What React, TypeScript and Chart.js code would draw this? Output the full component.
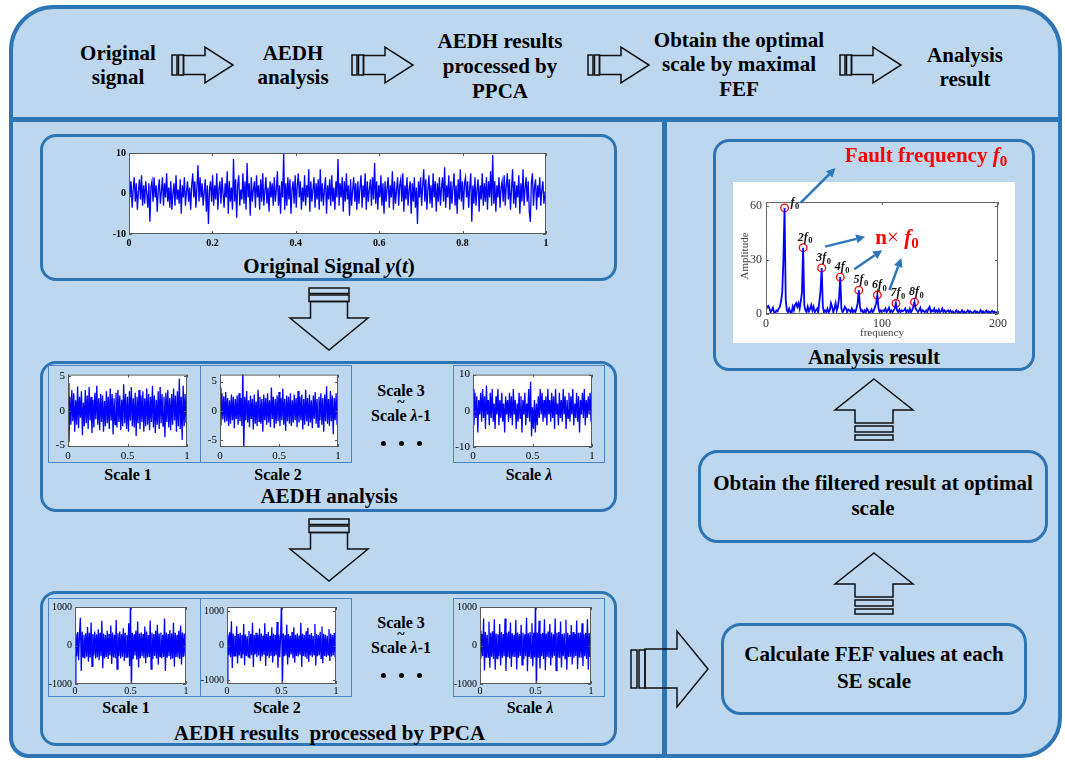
import React, { useEffect, useRef } from "react";
import { Chart, registerables } from "chart.js";

Chart.register(...registerables);

const SERIF = '"Liberation Serif", "Times New Roman", Times, serif';
const FRAME_BLUE = "#2E75B6";
const PANEL_FILL = "#BDD7EE";
const INNER_BLUE = "#4A86C5";
const SIGNAL_BLUE = "#0000FF";

// ---------- signals (sampled over t = 0..1) ----------
const ORIGINAL_SIGNAL = [
  6.5, -1, 3, -3.5, 1, 4, -2, 2.5, -4, 0.5, 3.5, -1.5, 4.5, -3, 2, -2.5, 3, 0, -3.5, 2.5,
  -7, 1.5, 3, -2, 4, -1, 2, -4.5, 1, 3.5, -2.5, 0.5, 4, -3, 2.5, -1, 5, -2, 1.5, -3.5,
  3, -4, 0, 2.5, -3, 4.5, -1.5, 1, -2.5, 3.5, -5, 2, -1, 4, -3, 0.5, 3, -2, 1.5, -4,
  2, 5, -1, 3, -3.5, 1.5, 7, -2, 4, -1, 2.5, -3, 0.5, 3.5, -4.5, 2, -7.5, 1, 3, -2,
  4.5, -3, 2, -1.5, 5, -4, 1, 3, -2.5, 4, 0, -3.5, 2.5, -1, 5.5, -5, 3, -2, 1.5, -4,
  8.5, -2, 3.5, -6, 2, 4.5, -3, 1, -1.5, 5, -2.5, 3, -4, 7.5, -1, 2.5, -5.5, 4, -2, 1,
  3, -3.5, 4.5, -1, 2, -4, 3.5, -2, 5, -3, 0.5, 4, -2.5, 1.5, -4.5, 3, -1, 2.5, -3, 4,
  -2, 1, 5.5, -3, 2, -5, 3, -1, 10, -4, 2.5, -3, 4, -1.5, 3.5, -5, 1, 3, -2.5, 4.5,
  -3.5, 2, 5, -1, 3, -4, 1.5, -2, 4.5, -3, 2, -1, 6, -4.5, 3, -2, 1, 4, -3.5, 2.5,
  -1.5, 3.5, -4, 6, -2, 2.5, -3, 1, 4, -5, 2, -1.5, 3.5, -3, 4.5, -2, 1.5, -4, 3, -1,
  8.5, -3, 2.5, -1, 4, -4.5, 3, -2, 5, -1.5, 2, -5.5, 3.5, -3, 1, 4, -2, 2.5, -4, 3,
  -2.5, 1.5, 4.5, -3.5, 2, -1, 5, -4, 3, -2, 1, 3.5, -3, 4, -1.5, 7.5, -2.5, 3, -4, 2,
  -1, 4.5, -3, 2.5, -5, 3, -2, 1.5, 4, -3.5, 2, -1, 5.5, -4, 3, -2.5, 1, 4, -3, 2,
  3.5, -2, 5, -4.5, 2, -1.5, 4, -3, 1, 3, -5, 2.5, -2, 4, -3.5, 1.5, -7.5, 3, -1, 4,
  -3, 2, 6, -2, 3.5, -4, 1, 4.5, -2.5, 2, -3.5, 5, -1, 3, -4.5, 2.5, -2, 4, -3, 1.5,
  4, -2, 6.5, -3.5, 2, -1, 4.5, -4, 3, -2.5, 1.5, 5, -3, 2, -5, 3.5, -1.5, 6, -2, 3,
  -4, 2.5, 4, -1, 3, -3.5, 1.5, 5, -7, 2, -2.5, 4, -3, 1, 3.5, -4.5, 2, -1.5, 5, -3,
  2.5, -2, 4, -4, 3, -1, 5.5, -3, 9.5, -2.5, 3, -4.5, 2, -1, 4, -3.5, 1.5, 3, -2, 4.5,
  -3, 2, 5, -1.5, 3.5, -4, 1, 6, -2.5, 3, -3.5, 2, -1, 4.5, -5, 2.5, -2, 6, -3, 1.5,
  4, -2, 3, -4.5, -7, 2.5, 5, -3, 1.5, 3.5, -4, 2, -1, 4, -3, 1, 3, -2.5, 0.5, -3,
];

const AEDH_SCALE_1 = [
  4, -4.5, 2, -2, 3, -1.5, 2.5, -3, 1.5, -2, 3.5, -2.5, 2, -1, 2.8, -3.5, 1.2, -2.2, 3, -1.8,
  2.2, -2.6, 3.4, -1.4, 2, -3.2, 1.6, -2.4, 2.6, -1.2, 3.6, -2, 1.8, -2.8, 2.4, -1.6, 2.2, -3, 1.4, -2.2,
  2.8, -1.8, 2, -2.6, 3.2, -1.4, 2.4, -3.4, 1.8, -2, 2.6, -2.4, 3, -1.6, 2.2, -2.8, 1.6, -2.2, 3.8, -1.8,
  2.4, -2.6, 2, -3, 2.8, -1.4, 3.4, -2.2, 1.8, -2.4, 2.6, -3.6, 2, -1.8, 3, -2.6, 2.2, -1.6, 2.8, -3,
  1.8, -2.2, 3.2, -2, 2.4, -2.8, 2, -1.6, 3.6, -2.4, 2.2, -3.2, 1.6, -2, 2.8, -2.6, 3.4, -1.8, 2.4, -2.2,
  2, -3.8, 2.6, -1.6, 3, -2.4, 1.8, -2.8, 2.4, -2, 3.2, -1.4, 2.2, -3, 2.8, -2.2, 4.6, -2.6, 2, -4.2,
  3.6, -2.2, 2.4, -1.8, 3,
];

const AEDH_SCALE_2 = [
  4, -2.5, 3, -1.5, 2.5, -2, 3.2, -1.8, 2.2, -2.6, 1.8, -2.2, 2.8, -1.6, 2.4, -3, 2, -1.4, 2.6, -2.4,
  3, -1.8, 2.2, -2.6, 7, -7, 2.4, -1.6, 3.4, -2, 1.8, -2.8, 2.6, -1.4, 2, -3.2, 2.8, -2.2, 1.6, -2.6,
  3.6, -1.8, 2.4, -2.2, 2, -3.6, 2.8, -1.6, 2.2, -2.4, 3, -2, 1.8, -2.8, 4, -1.4, 2.4, -3, 2, -2.2,
  2.6, -1.8, 3.2, -2.6, 2.2, -1.6, 3.8, -2.4, 2, -3.4, 2.6, -1.8, 2.4, -2.2, 3, -2.6, 1.8, -2, 2.8, -1.6,
  2.2, -2.8, 3.4, -2, 2.4, -1.6, 2.8, -3.2, 2, -2.4, 3.6, -1.8, 2.2, -2.6, 2.8, -2, 1.8, -3, 2.6, -1.4,
  3.2, -2.2, 2, -2.8, 2.4, -1.6, 3, -2.4, 2.2, -3.6, 2.8, -1.8, 4.2, -2.2, 2, -2.6, 3.4, -1.8, 2.6, -4,
  2.2, -1.6, 3, -2.4, 2,
];

const AEDH_SCALE_LAMBDA = [
  6, -4, 5, -2, 4, -6, 3, -1, 5, -3, 6, -2, 4, -5, 7, -1, 3, -4, 5, -2,
  6, -3, 2, -5, 4, -1, 6, -4, 3, -2, 5, -3, 2, -6, 4, -1, 3, -3, 5, -2,
  4, -4, 6, -1, 3, -5, 2, -3, 5, -2, 4, -6, 3, -1, 5, -4, 2, -2, 6, -3,
  8, -7, 1, -5, 3, -6, 2, -4, 4, -2, 6, -1, 5, -3, 3, -2, 4, -4, 6, -1,
  3, -3, 5, -2, 4, -5, 6, -1, 2, -4, 5, -2, 3, -3, 6, -1, 4, -5, 3, -2,
  5, -3, 4, -1, 6, -4, 2, -2, 5, -3, 4, -6, 3, -1, 5, -2, 6, -4, 3, -2,
  4, -1, 5, -3, 2,
];

const PPCA_SCALE_1 = [
  -1100, 320, -280, 350, -380, 300, 720, -660, 360, -300, 280, -340, 320, -290, 480, -420, 330, -310, 600, -540,
  300, -260, 360, -340, 290, -310, 420, -380, 330, -280, 640, -590, 310, -340, 270, -300, 380, -350, 300, -260,
  520, -480, 340, -310, 280, -330, 660, -610, 320, -270, 360, -340, 300, -290, 450, -400, 330, -300, 270, -310,
  580, -530, 1200, -1200, 330, -350, 290, -260, 380, -360, 620, -570, 310, -330, 340, -280, 300, -330, 490, -460,
  360, -310, 270, -300, 650, -610, 330, -350, 300, -270, 380, -340, 540, -500, 310, -290, 340, -330, 280, -300,
  700, -660, 340, -320, 300, -280, 400, -360, 310, -340, 590, -550, 330, -300, 280, -310, 380, -350, 520, -490,
  340, -300, 310, -280, 330,
];

const PPCA_SCALE_2 = [
  -1050, 320, -280, 380, -340, 700, -650, 350, -300, 280, -320, 560, -520, 330, -290, 370, -350, 300, -260, 620,
  -570, 320, -300, 270, -330, 420, -380, 340, -280, 660, -620, 300, -260, 370, -340, 310, -290, 490, -450, 350,
  -320, 290, -270, 640, -590, 330, -300, 390, -360, 280, -300, 530, -490, 340, -310, 300, -280, 680, -640, 320,
  -340, 280, 1300, -1300, 350, -310, 300, -290, 600, -550, 330, -350, 280, -260, 390, -370, 530, -500, 310, -300,
  350, -320, 290, -270, 660, -620, 340, -300, 300, -330, 410, -380, 510, -480, 320, -290, 360, -340, 280, -260,
  620, -580, 330, -310, 300, -280, 400, -370, 550, -510, 340, -300, 310, -330, 280, -270, 480, -450, 350, -320,
  300, -280, 370, -340, 310,
];

const PPCA_SCALE_LAMBDA = [
  380, -340, 300, -280, 700, -650, 350, -320, 280, -300, 620, -580, 330, -290, 370, -350, 680, -630, 310, -340,
  290, -270, 560, -520, 350, -320, 300, -280, 700, -660, 330, -300, 360, -340, 600, -560, 320, -290, 280, -300,
  660, -620, 340, -320, 300, -270, 540, -500, 330, -350, 290, -280, 720, -670, 320, -300, 350, -330, 580, -540,
  330, -310, 1200, -1200, 340, -320, 640, -600, 300, -280, 330, -350, 680, -640, 310, -290, 360, -320, 560, -520,
  340, -320, 290, -270, 700, -650, 330, -310, 350, -330, 620, -570, 300, -280, 320, -340, 670, -630, 330, -300,
  280, -290, 530, -490, 350, -320, 300, -270, 650, -610, 330, -310, 340, -320, 580, -540, 300, -280, 330, -350,
  680, -630, 320, -300, 340,
];

// ---------- envelope spectrum (one value per frequency bin 0..200) ----------
const SPECTRUM = [
  2, 4, 4.5, 3, 1, 2, 3.5, 1, 0.5, 2, 1.5, 3, 4, 7, 12, 30, 58.7, 8, 2, 1,
  3, 1, 0.5, 4, 2, 5, 6, 4, 6, 3, 7, 12, 36.7, 5, 2, 1, 4, 1.5, 3, 5,
  2, 4, 1, 2, 3, 1, 7, 13, 25.5, 4, 1, 2, 1, 3, 1, 2, 6, 4, 1, 3,
  6, 2, 4, 9, 20.4, 3, 1, 2, 4, 3, 1, 2.5, 2, 1, 3, 1, 2, 1, 3, 6,
  13.2, 4, 1.5, 2, 0.5, 2, 1, 3, 2, 0.5, 1, 2.5, 1, 2, 4, 6, 10.5, 3, 1, 2,
  1, 2, 1.5, 3, 1, 2, 3.5, 1, 2, 1, 2, 3, 5.9, 2, 1, 2.5, 1, 2, 1.5, 2,
  3, 1, 2, 1, 3, 1, 2, 4, 6.6, 3, 2, 1, 2, 3.5, 1, 2, 1.5, 1, 2, 1,
  3, 4, 1, 2, 1.5, 3, 1, 2, 1, 2.5, 1, 1.5, 3, 1, 2, 1, 1.5, 2, 1, 2,
  1, 1.5, 0.5, 1, 2, 1, 1.5, 0.5, 1, 2, 0.8, 1.4, 0.6, 1.2, 2, 0.9, 1.6, 1, 0.4, 1.1,
  1.8, 0.7, 1.3, 0.5, 1, 2.1, 0.8, 1.5, 0.6, 1.2, 1.9, 0.7, 1.4, 0.5, 1.1, 1.7, 0.9, 1.3, 0.6, 1, 0.8,
];
const FREQUENCY = SPECTRUM.map((_, i) => i);
const PEAK_BINS = [16, 32, 48, 64, 80, 96, 112, 128];
const PEAK_MULTIPLES = ["", "2", "3", "4", "5", "6", "7", "8"];

// ---------- tick values ----------
const SIGNAL_X_TICKS = [0, 0.2, 0.4, 0.6, 0.8, 1];
const SIGNAL_Y_TICKS = [-10, 0, 10];
const SCALE_X_TICKS = [0, 0.5, 1];
const SCALE_Y_TICKS_SMALL = [-5, 0, 5];
const SCALE_Y_TICKS_LARGE = [-10, 0, 10];
const PPCA_Y_TICKS = [-1000, 0, 1000];
const SPECTRUM_X_TICKS = [0, 100, 200];
const SPECTRUM_Y_TICKS = [0, 30, 60];

type Box = { x: number; y: number; w: number; h: number };

// white plot face, grey frame and short inward tick marks
function framePlugin(xTicks: number[], yTicks: number[], color: string, len: number) {
  return {
    id: "plotFrame",
    beforeDatasetsDraw(chart: any) {
      const { ctx, chartArea: a } = chart;
      ctx.save();
      ctx.fillStyle = "#ffffff";
      ctx.fillRect(a.left, a.top, a.right - a.left, a.bottom - a.top);
      ctx.restore();
    },
    afterDatasetsDraw(chart: any) {
      const { ctx, chartArea: a, scales } = chart;
      ctx.save();
      ctx.strokeStyle = color;
      ctx.lineWidth = 1;
      ctx.strokeRect(a.left + 0.5, a.top + 0.5, a.right - a.left - 1, a.bottom - a.top - 1);
      ctx.beginPath();
      xTicks.forEach((v) => {
        const px = Math.round(scales.x.getPixelForValue(v)) + 0.5;
        ctx.moveTo(px, a.bottom);
        ctx.lineTo(px, a.bottom - len);
        ctx.moveTo(px, a.top);
        ctx.lineTo(px, a.top + len);
      });
      yTicks.forEach((v) => {
        const py = Math.round(scales.y.getPixelForValue(v)) + 0.5;
        ctx.moveTo(a.left, py);
        ctx.lineTo(a.left + len, py);
        ctx.moveTo(a.right, py);
        ctx.lineTo(a.right - len, py);
      });
      ctx.stroke();
      ctx.restore();
    },
  };
}

interface SignalPlotProps {
  box: Box;
  values: number[];
  yMin: number;
  yMax: number;
  yTicks: number[];
  xTicks: number[];
  fontSize: number;
  bold?: boolean;
  yAxisW: number;
  xAxisH: number;
  lineWidth?: number;
  xPad?: number;
}

function SignalPlot(p: SignalPlotProps) {
  const ref = useRef<HTMLCanvasElement>(null);
  const padTop = 8;
  const padRight = 10;
  const cw = p.yAxisW + p.box.w + padRight;
  const ch = padTop + p.box.h + p.xAxisH;

  useEffect(() => {
    const font = { family: SERIF, size: p.fontSize, weight: p.bold ? "bold" : "normal" };
    const n = p.values.length;
    const chart = new Chart(ref.current as HTMLCanvasElement, {
      type: "line",
      data: {
        datasets: [
          {
            data: p.values.map((v, i) => ({ x: i / (n - 1), y: v })),
            borderColor: SIGNAL_BLUE,
            borderWidth: p.lineWidth ?? 1.3,
            pointRadius: 0,
            tension: 0,
            fill: false,
          },
        ],
      },
      options: {
        responsive: false,
        animation: false,
        devicePixelRatio: 1,
        events: [],
        layout: { padding: { top: padTop, right: padRight, left: 0, bottom: 0 } },
        plugins: { legend: { display: false }, tooltip: { enabled: false } },
        scales: {
          x: {
            type: "linear",
            min: 0,
            max: 1,
            grid: { display: false, drawTicks: false },
            border: { display: false },
            afterBuildTicks: (s: any) => {
              s.ticks = p.xTicks.map((v) => ({ value: v }));
            },
            afterFit: (s: any) => {
              s.height = p.xAxisH;
            },
            ticks: {
              font,
              color: "#000",
              padding: p.xPad ?? 3,
              maxRotation: 0,
              autoSkip: false,
              callback: (v: any) => String(v),
            },
          },
          y: {
            type: "linear",
            min: p.yMin,
            max: p.yMax,
            grid: { display: false, drawTicks: false },
            border: { display: false },
            afterBuildTicks: (s: any) => {
              s.ticks = p.yTicks.map((v) => ({ value: v }));
            },
            afterFit: (s: any) => {
              s.width = p.yAxisW;
            },
            ticks: {
              font,
              color: "#000",
              padding: 3,
              autoSkip: false,
              callback: (v: any) => String(v),
            },
          },
        },
      } as any,
      plugins: [framePlugin(p.xTicks, p.yTicks, "#5a5a5a", 3)],
    });
    return () => chart.destroy();
  }, []);

  return (
    <canvas
      ref={ref}
      width={cw}
      height={ch}
      style={{ position: "absolute", left: p.box.x - p.yAxisW, top: p.box.y - padTop, width: cw, height: ch }}
    />
  );
}

function drawSubscripted(ctx: any, head: string, x: number, y: number, align: "left" | "center") {
  ctx.font = `italic bold 12px ${SERIF}`;
  const wHead = ctx.measureText(head + "f").width;
  ctx.font = `bold 8.5px ${SERIF}`;
  const wSub = ctx.measureText("0").width;
  const start = align === "center" ? x - (wHead + wSub + 0.5) / 2 : x;
  ctx.textBaseline = "middle";
  ctx.textAlign = "left";
  ctx.font = `italic bold 12px ${SERIF}`;
  ctx.fillText(head + "f", start, y);
  ctx.font = `bold 8.5px ${SERIF}`;
  ctx.fillText("0", start + wHead + 0.5, y + 3.5);
}

function drawArrow(ctx: any, x0: number, y0: number, x1: number, y1: number, color: string) {
  const ang = Math.atan2(y1 - y0, x1 - x0);
  const head = 9;
  const half = 4.5;
  const bx = x1 - head * Math.cos(ang);
  const by = y1 - head * Math.sin(ang);
  ctx.save();
  ctx.strokeStyle = color;
  ctx.fillStyle = color;
  ctx.lineWidth = 2.4;
  ctx.beginPath();
  ctx.moveTo(x0, y0);
  ctx.lineTo(bx, by);
  ctx.stroke();
  ctx.beginPath();
  ctx.moveTo(x1, y1);
  ctx.lineTo(bx + half * Math.sin(ang), by - half * Math.cos(ang));
  ctx.lineTo(bx - half * Math.sin(ang), by + half * Math.cos(ang));
  ctx.closePath();
  ctx.fill();
  ctx.restore();
}

function SpectrumPlot() {
  const ref = useRef<HTMLCanvasElement>(null);
  const box = { x: 766, y: 202, w: 232, h: 112 };
  const yAxisW = 48;
  const xAxisH = 30;
  const padTop = 58;
  const padRight = 32;
  const cw = yAxisW + box.w + padRight;
  const ch = padTop + box.h + xAxisH;

  useEffect(() => {
    const font = { family: SERIF, size: 12 };
    // arrows leave the harmonic labels, offsets in pixels from the marked peak
    const pointers = [
      { peak: 0, dx0: 16, dy0: -5, dx1: 51, dy1: -40 },
      { peak: 1, dx0: 22, dy0: -1, dx1: 62, dy1: -11 },
      { peak: 3, dx0: 14, dy0: -8, dx1: 42, dy1: -27 },
      { peak: 5, dx0: 12, dy0: -5, dx1: 24, dy1: -37 },
    ];
    const annotate = {
      id: "harmonics",
      afterDraw(chart: any) {
        const { ctx, chartArea: a, scales } = chart;
        const pts = PEAK_BINS.map((b) => ({
          x: scales.x.getPixelForValue(FREQUENCY[b]),
          y: scales.y.getPixelForValue(SPECTRUM[b]),
        }));
        ctx.save();
        ctx.fillStyle = "#111";
        pts.forEach((pt, k) => {
          if (k === 0) drawSubscripted(ctx, PEAK_MULTIPLES[k], pt.x + 6, pt.y - 5, "left");
          else drawSubscripted(ctx, PEAK_MULTIPLES[k], pt.x + 2, pt.y - 10, "center");
        });
        pointers.forEach((ar) => {
          const pt = pts[ar.peak];
          drawArrow(ctx, pt.x + ar.dx0, pt.y + ar.dy0, pt.x + ar.dx1, pt.y + ar.dy1, FRAME_BLUE);
        });
        ctx.fillStyle = "#444";
        ctx.font = `11px ${SERIF}`;
        ctx.textAlign = "center";
        ctx.textBaseline = "middle";
        ctx.fillText("frequency", (a.left + a.right) / 2, a.bottom + 19);
        ctx.translate(a.left - 21, (a.top + a.bottom) / 2 - 2);
        ctx.rotate(-Math.PI / 2);
        ctx.fillText("Amplitude", 0, 0);
        ctx.restore();
      },
    };
    const chart = new Chart(ref.current as HTMLCanvasElement, {
      type: "line",
      data: {
        datasets: [
          {
            data: FREQUENCY.map((f, i) => ({ x: f, y: SPECTRUM[i] })),
            borderColor: SIGNAL_BLUE,
            borderWidth: 1.8,
            pointRadius: 0,
            tension: 0,
            fill: false,
          },
          {
            data: PEAK_BINS.map((b) => ({ x: FREQUENCY[b], y: SPECTRUM[b] })),
            showLine: false,
            pointRadius: 3.8,
            pointBorderWidth: 1.3,
            pointBorderColor: "#FF0000",
            pointBackgroundColor: "rgba(255,255,255,0)",
          },
        ],
      },
      options: {
        responsive: false,
        animation: false,
        devicePixelRatio: 1,
        events: [],
        layout: { padding: { top: padTop, right: padRight, left: 0, bottom: 0 } },
        plugins: { legend: { display: false }, tooltip: { enabled: false } },
        scales: {
          x: {
            type: "linear",
            min: 0,
            max: 200,
            grid: { display: false, drawTicks: false },
            border: { display: false },
            afterBuildTicks: (s: any) => {
              s.ticks = SPECTRUM_X_TICKS.map((v) => ({ value: v }));
            },
            afterFit: (s: any) => {
              s.height = xAxisH;
            },
            ticks: { font, color: "#333", padding: 3, maxRotation: 0, autoSkip: false, callback: (v: any) => String(v) },
          },
          y: {
            type: "linear",
            min: 0,
            max: 62,
            grid: { display: false, drawTicks: false },
            border: { display: false },
            afterBuildTicks: (s: any) => {
              s.ticks = SPECTRUM_Y_TICKS.map((v) => ({ value: v }));
            },
            afterFit: (s: any) => {
              s.width = yAxisW;
            },
            ticks: { font, color: "#333", padding: 4, autoSkip: false, callback: (v: any) => String(v) },
          },
        },
      } as any,
      plugins: [framePlugin(SPECTRUM_X_TICKS, SPECTRUM_Y_TICKS, "#666", 3), annotate],
    });
    return () => chart.destroy();
  }, []);

  return (
    <canvas
      ref={ref}
      width={cw}
      height={ch}
      style={{ position: "absolute", left: box.x - yAxisW, top: box.y - padTop, width: cw, height: ch }}
    />
  );
}

function Label(props: { x: number; y: number; size?: number; lh?: number; color?: string; children: any }) {
  const size = props.size ?? 21;
  return (
    <div
      style={{
        position: "absolute",
        left: props.x,
        top: props.y,
        transform: "translate(-50%, -50%)",
        fontFamily: SERIF,
        fontWeight: "bold",
        fontSize: size,
        lineHeight: `${props.lh ?? Math.round(size * 1.15)}px`,
        color: props.color ?? "#000",
        textAlign: "center",
        whiteSpace: "pre",
      }}
    >
      {props.children}
    </div>
  );
}

function RoundBox(props: { x: number; y: number; w: number; h: number; r: any; bw?: number; color?: string; fill?: string }) {
  return (
    <div
      style={{
        position: "absolute",
        left: props.x,
        top: props.y,
        width: props.w,
        height: props.h,
        boxSizing: "border-box",
        border: `${props.bw ?? 3.5}px solid ${props.color ?? FRAME_BLUE}`,
        borderRadius: props.r,
        background: props.fill ?? "transparent",
      }}
    />
  );
}

function Arrows() {
  const st = { fill: "none", stroke: "#111", strokeWidth: 1.5 };
  const topArrows = [172, 352, 588, 840];
  const down = (cx: number, t: number) => (
    <g key={`d${t}`}>
      <rect x={cx - 20} y={t} width={40} height={5.5} {...st} />
      <rect x={cx - 20} y={t + 7} width={40} height={6.5} {...st} />
      <polygon
        points={`${cx - 18.5},${t + 13.5} ${cx + 18.5},${t + 13.5} ${cx + 18.5},${t + 30} ${cx + 39},${t + 30} ${cx},${t + 62} ${cx - 39},${t + 30} ${cx - 18.5},${t + 30}`}
        {...st}
      />
    </g>
  );
  const up = (cx: number, t: number) => (
    <g key={`u${t}`}>
      <polygon
        points={`${cx},${t} ${cx + 39},${t + 31} ${cx + 19},${t + 31} ${cx + 19},${t + 44} ${cx - 19},${t + 44} ${cx - 19},${t + 31} ${cx - 39},${t + 31}`}
        {...st}
      />
      <rect x={cx - 19} y={t + 47} width={38} height={6} {...st} />
      <rect x={cx - 19} y={t + 56} width={38} height={5} {...st} />
    </g>
  );
  return (
    <svg width={1065} height={762} style={{ position: "absolute", left: 0, top: 0 }}>
      {topArrows.map((x0) => (
        <g key={x0}>
          <rect x={x0} y={55} width={5} height={20} {...st} />
          <rect x={x0 + 6.5} y={55} width={5} height={20} {...st} />
          <polygon
            points={`${x0 + 11.5},55.5 ${x0 + 33},55.5 ${x0 + 33},47 ${x0 + 61},65 ${x0 + 33},83 ${x0 + 33},74.5 ${x0 + 11.5},74.5`}
            {...st}
          />
        </g>
      ))}
      {down(329, 288)}
      {down(329, 519)}
      {up(874, 379)}
      {up(874, 553)}
      <g>
        <rect x={631} y={650} width={6} height={38} {...st} />
        <rect x={639} y={650} width={6} height={38} {...st} />
        <polygon points="645,649 677,649 677,631 708,669 677,707 677,688 645,688" {...st} />
      </g>
    </svg>
  );
}

function Dots({ y }: { y: number }) {
  return (
    <>
      {[383, 401, 419].map((x) => (
        <div
          key={x}
          style={{ position: "absolute", left: x - 2.5, top: y - 2.5, width: 5, height: 5, borderRadius: 3, background: "#000" }}
        />
      ))}
    </>
  );
}

function MiddleScales({ y }: { y: number }) {
  return (
    <>
      <Label x={401} y={y} size={16}>Scale 3</Label>
      <Label x={401} y={y + 12} size={14}>~</Label>
      <Label x={401} y={y + 25} size={16}>
        Scale <i>λ</i>-1
      </Label>
      <Dots y={y + 52} />
    </>
  );
}

export default function App() {
  return (
    <div style={{ position: "absolute", left: 0, top: 0, width: 1065, height: 762, background: "#fff", overflow: "hidden" }}>
      {/* outer frame */}
      <RoundBox x={9} y={5} w={1053} h={753} r="45px 45px 40px 20px" bw={4.5} fill={PANEL_FILL} />
      <div style={{ position: "absolute", left: 11, top: 117, width: 1049, height: 4.5, background: FRAME_BLUE }} />
      <div style={{ position: "absolute", left: 662, top: 120, width: 4.5, height: 636, background: FRAME_BLUE }} />

      {/* left column boxes */}
      <RoundBox x={40} y={134} w={577} h={147} r={16} />
      <RoundBox x={40} y={361} w={577} h={151} r={16} />
      <RoundBox x={40} y={591} w={577} h={155} r={16} />

      {/* inner scale panels */}
      <RoundBox x={48} y={365} w={153} h={98} r={0} bw={1.5} color={INNER_BLUE} />
      <RoundBox x={200} y={365} w={152} h={98} r={0} bw={1.5} color={INNER_BLUE} />
      <RoundBox x={453} y={365} w={152} h={98} r={0} bw={1.5} color={INNER_BLUE} />
      <RoundBox x={48} y={598} w={153} h={99} r={0} bw={1.5} color={INNER_BLUE} />
      <RoundBox x={200} y={598} w={152} h={99} r={0} bw={1.5} color={INNER_BLUE} />
      <RoundBox x={453} y={598} w={152} h={99} r={0} bw={1.5} color={INNER_BLUE} />

      {/* right column boxes */}
      <RoundBox x={713} y={139} w={322} h={232} r={16} />
      <div style={{ position: "absolute", left: 733, top: 182, width: 282, height: 161, background: "#fff" }} />
      <RoundBox x={698} y={450} w={350} h={93} r={20} />
      <RoundBox x={721} y={623} w={306} h={92} r={20} />

      <Arrows />

      {/* header flow */}
      <Label x={118} y={65} lh={24}>Original<br />signal</Label>
      <Label x={293} y={65} lh={24}>AEDH<br />analysis</Label>
      <Label x={500} y={66} lh={25}>AEDH results<br />processed by<br />PPCA</Label>
      <Label x={739} y={64.5} lh={24.5}>Obtain the optimal<br />scale by maximal<br />FEF</Label>
      <Label x={965} y={67} lh={24}>Analysis<br />result</Label>

      {/* left column */}
      <SignalPlot
        box={{ x: 129, y: 152, w: 417, h: 82 }}
        values={ORIGINAL_SIGNAL}
        yMin={-10}
        yMax={10}
        yTicks={SIGNAL_Y_TICKS}
        xTicks={SIGNAL_X_TICKS}
        fontSize={10}
        bold
        yAxisW={32}
        xAxisH={20}
        lineWidth={1.3}
      />
      <Label x={329} y={266}>
        Original Signal <i>y</i>(<i>t</i>)
      </Label>

      <SignalPlot box={{ x: 68, y: 373, w: 119, h: 74 }} values={AEDH_SCALE_1} yMin={-5.2} yMax={5.2}
        yTicks={SCALE_Y_TICKS_SMALL} xTicks={SCALE_X_TICKS} fontSize={11} yAxisW={20} xAxisH={16} />
      <SignalPlot box={{ x: 220, y: 373, w: 118, h: 74 }} values={AEDH_SCALE_2} yMin={-6.2} yMax={6.2}
        yTicks={SCALE_Y_TICKS_SMALL} xTicks={SCALE_X_TICKS} fontSize={11} yAxisW={20} xAxisH={16} />
      <SignalPlot box={{ x: 473, y: 373, w: 119, h: 74 }} values={AEDH_SCALE_LAMBDA} yMin={-10} yMax={10}
        yTicks={SCALE_Y_TICKS_LARGE} xTicks={SCALE_X_TICKS} fontSize={11} yAxisW={20} xAxisH={16} />
      <Label x={128} y={475} size={16}>Scale 1</Label>
      <Label x={278} y={475} size={16}>Scale 2</Label>
      <Label x={529} y={475} size={16}>
        Scale <i>λ</i>
      </Label>
      <MiddleScales y={391} />
      <Label x={329} y={496}>AEDH analysis</Label>

      <SignalPlot box={{ x: 75, y: 606, w: 111, h: 78 }} values={PPCA_SCALE_1} yMin={-1000} yMax={1000}
        yTicks={PPCA_Y_TICKS} xTicks={SCALE_X_TICKS} fontSize={10} yAxisW={27} xAxisH={14} xPad={1} />
      <SignalPlot box={{ x: 227, y: 606, w: 109, h: 78 }} values={PPCA_SCALE_2} yMin={-1114} yMax={1114}
        yTicks={PPCA_Y_TICKS} xTicks={SCALE_X_TICKS} fontSize={10} yAxisW={27} xAxisH={14} xPad={1} />
      <SignalPlot box={{ x: 480, y: 606, w: 111, h: 78 }} values={PPCA_SCALE_LAMBDA} yMin={-1000} yMax={1000}
        yTicks={PPCA_Y_TICKS} xTicks={SCALE_X_TICKS} fontSize={10} yAxisW={27} xAxisH={14} xPad={1} />
      <Label x={126} y={708} size={16}>Scale 1</Label>
      <Label x={277} y={708} size={16}>Scale 2</Label>
      <Label x={530} y={708} size={16}>
        Scale <i>λ</i>
      </Label>
      <MiddleScales y={623} />
      <Label x={329.5} y={733}>{"AEDH results  processed by PPCA"}</Label>

      {/* right column */}
      <SpectrumPlot />
      <Label x={926} y={158} color="#FF0000">
        Fault frequency <i>f</i>
        <span style={{ fontSize: 15, verticalAlign: -4 }}>0</span>
      </Label>
      <Label x={897} y={240} color="#FF0000">
        n<span style={{ fontWeight: "normal" }}>×</span> <i>f</i>
        <span style={{ fontSize: 15, verticalAlign: -4 }}>0</span>
      </Label>
      <Label x={874} y={357}>Analysis result</Label>
      <Label x={873} y={495.5} lh={25.5}>Obtain the filtered result at optimal<br />scale</Label>
      <Label x={874} y={668} lh={27}>Calculate FEF values at each<br />SE scale</Label>
    </div>
  );
}
